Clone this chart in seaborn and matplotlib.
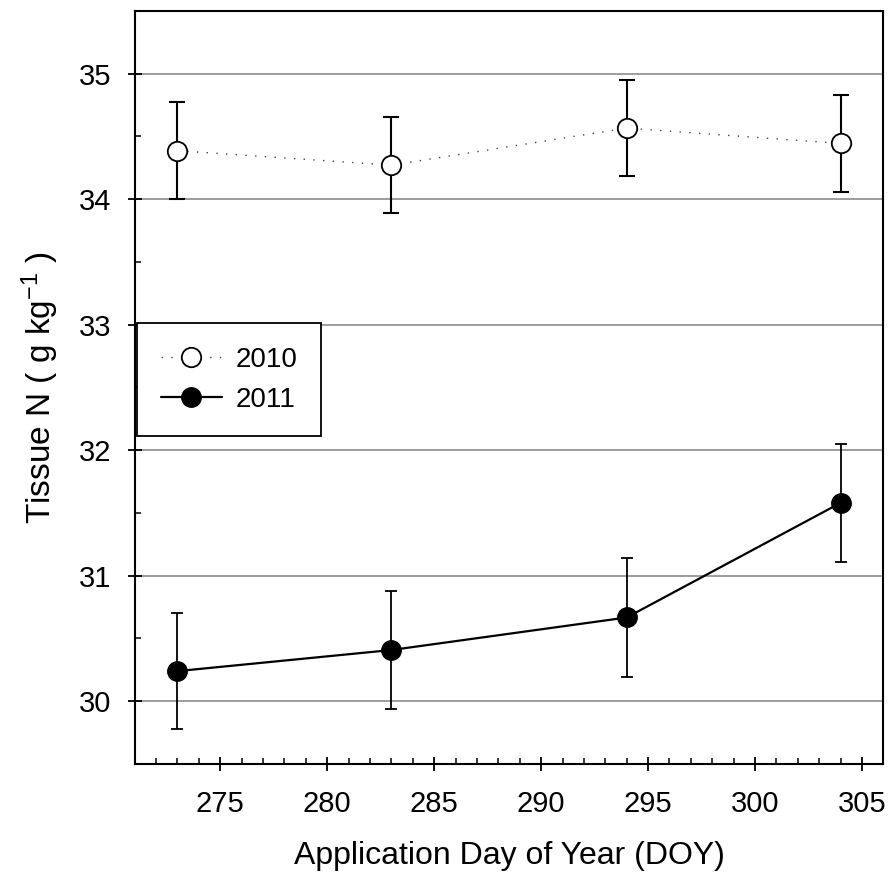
import matplotlib
matplotlib.use("Agg")
import matplotlib.pyplot as plt
from matplotlib.lines import Line2D
from matplotlib.ticker import MultipleLocator
import seaborn as sns
import pandas as pd

# ---- data ----
doy = [273, 283, 294, 304]
n_2010 = [34.385, 34.27, 34.565, 34.443]
se_2010 = [0.385, 0.385, 0.385, 0.384]
n_2011 = [30.24, 30.408, 30.667, 31.58]
se_2011 = [0.465, 0.47, 0.472, 0.47]
years = ["2010", "2011"]
x_label = "Application Day of Year (DOY)"
y_label = "Tissue N ( g kg$^{-1}$ )"

sns.set_style("white")
plt.rcParams["font.family"] = ["Liberation Sans", "DejaVu Sans"]
plt.rcParams["mathtext.fontset"] = "custom"
plt.rcParams["mathtext.rm"] = "Liberation Sans"
plt.rcParams["mathtext.default"] = "regular"
plt.rcParams["text.color"] = "black"
plt.rcParams["axes.labelcolor"] = "black"
plt.rcParams["xtick.color"] = "black"
plt.rcParams["ytick.color"] = "black"

df = pd.DataFrame({
    "doy": doy * 2,
    "n": n_2010 + n_2011,
    "se": se_2010 + se_2011,
    "year": [years[0]] * len(doy) + [years[1]] * len(doy),
})

fig = plt.figure(figsize=(8.91, 8.94), dpi=100)
ax = fig.add_axes([0.1512, 0.1454, 0.8402, 0.8426])

d10 = df[df.year == "2010"]
d11 = df[df.year == "2011"]

# error bars
ax.errorbar(d10.doy, d10.n, yerr=d10.se, fmt="none", ecolor="black",
            elinewidth=1.5, capsize=5.6, capthick=1.5, zorder=3)
ax.errorbar(d11.doy, d11.n, yerr=d11.se, fmt="none", ecolor="black",
            elinewidth=1.3, capsize=4.4, capthick=1.3, zorder=3)

# lines (seaborn)
sns.lineplot(data=d10, x="doy", y="n", ax=ax, color="#444444",
             linestyle=(0, (1, 6)), linewidth=1.0, zorder=4, legend=False)
sns.lineplot(data=d11, x="doy", y="n", ax=ax, color="black",
             linewidth=1.6, zorder=4, legend=False)
# markers
sns.scatterplot(data=d10, x="doy", y="n", ax=ax, s=14**2, marker="o",
                facecolor="white", edgecolor="black", linewidth=1.3, zorder=5, legend=False)
sns.scatterplot(data=d11, x="doy", y="n", ax=ax, s=14**2, marker="o",
                color="black", edgecolor="black", linewidth=1.0, zorder=5, legend=False)

ax.set_xlim(271, 306)
ax.set_ylim(29.5, 35.5)
ax.xaxis.set_major_locator(MultipleLocator(5))
ax.xaxis.set_minor_locator(MultipleLocator(1))
ax.yaxis.set_major_locator(MultipleLocator(1))
ax.yaxis.set_minor_locator(MultipleLocator(0.5))
ax.set_xticks([275, 280, 285, 290, 295, 300, 305])

ax.yaxis.grid(True, which="major", color="#8c8c8c", linewidth=1.2, zorder=0)
ax.xaxis.grid(False)
ax.set_axisbelow(True)

for sp in ax.spines.values():
    sp.set_visible(True)
    sp.set_color("black")
    sp.set_linewidth(1.5)

ax.tick_params(axis="both", which="major", direction="inout", length=10, width=1.3,
               labelsize=21, colors="black", bottom=True, left=True, top=False, right=False)
ax.tick_params(axis="x", which="major", pad=14)
ax.tick_params(axis="y", which="major", pad=12)
ax.tick_params(axis="both", which="minor", direction="in", length=4.5, width=1.1,
               bottom=True, left=True, top=False, right=False)

ax.set_xlabel(x_label, fontsize=23, labelpad=16)
ax.set_ylabel(y_label, fontsize=24, labelpad=13)

handles = [
    Line2D([], [], color="#444444", linestyle=(0, (1, 6)), linewidth=1.0,
           marker="o", markersize=14, markerfacecolor="white", markeredgecolor="black",
           markeredgewidth=1.3),
    Line2D([], [], color="black", linewidth=1.6, marker="o", markersize=14,
           markerfacecolor="black", markeredgecolor="black"),
]
leg = ax.legend(handles, years, loc="upper left", bbox_to_anchor=(0.003, 0.5854),
                borderaxespad=0, fontsize=20, frameon=True, fancybox=False,
                handlelength=2.2, handletextpad=0.5, labelspacing=0.5,
                borderpad=0.85)
leg.get_frame().set_edgecolor("black")
leg.get_frame().set_linewidth(1.3)
leg.get_frame().set_alpha(1)

fig.savefig("out.png", dpi=100)
